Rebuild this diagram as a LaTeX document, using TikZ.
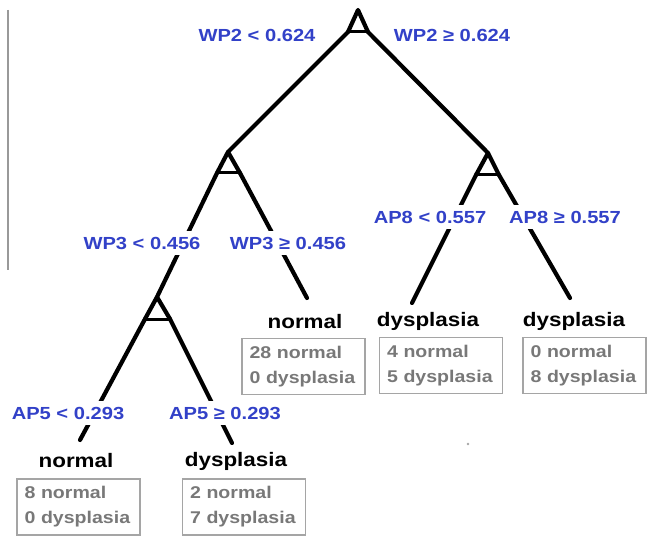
\documentclass[tikz,border=0pt]{standalone}
\usepackage{fontspec}
\newfontfamily\lab{Liberation Sans}[FakeStretch=1.15]
\definecolor{lblue}{RGB}{50,65,200}
\definecolor{boxgray}{RGB}{165,165,165}
\definecolor{txtgray}{RGB}{120,120,120}
\begin{document}
\begin{tikzpicture}[x=1pt,y=-1pt,
  branch/.style={line width=4.2pt, line join=round, line cap=round},
  crossbar/.style={line width=3pt},
  splitlbl/.style={fill=white, text=lblue, font=\lab\bfseries\fontsize{17.5}{20}\selectfont, inner sep=6pt},
  classlbl/.style={text=black, font=\lab\bfseries\fontsize{19.5}{22}\selectfont, inner sep=1pt},
  cbox/.style={draw=boxgray, line width=1.2pt, text=txtgray, font=\lab\bfseries\fontsize{17}{25}\selectfont, align=left, text width=108pt, inner xsep=7.5pt, inner ysep=3pt, minimum height=56pt}
]
\useasboundingbox (0,0) rectangle (647,537);
% stray margin line and dot in the reference
\draw[gray!80, line width=1.5pt] (8,10) coordinate (vt) -- (8,270) coordinate (vb);
\fill[gray!70] (468,444) coordinate (dot) circle (1.3);

% split points
\coordinate (r) at (358,10); \coordinate (rL) at (348,32); \coordinate (rR) at (368,32);
\coordinate (a) at (228,152); \coordinate (aL) at (217,173); \coordinate (aR) at (240,173);
\coordinate (c) at (488,153); \coordinate (cL) at (476,175); \coordinate (cR) at (499,175);
\coordinate (b) at (157,297); \coordinate (bL) at (145,319); \coordinate (bR) at (170,319);
% leaf ends
\coordinate (eA) at (307,298);
\coordinate (eCL) at (412,303); \coordinate (eCR) at (570,298);
\coordinate (eBL) at (80,440); \coordinate (eBR) at (232,443);

% triangles
\foreach \n in {r,a,c,b}{
  \draw[branch] (\n L) -- (\n) -- (\n R);
  \draw[crossbar] (\n L) -- (\n R);
}
% branches
\draw[branch] (rL) -- (a);
\draw[branch] (rR) -- (c);
\draw[branch] (aL) -- (b);
\draw[branch] (aR) -- (eA);
\draw[branch] (cL) -- (eCL);
\draw[branch] (cR) -- (eCR);
\draw[branch] (bL) -- (eBL);
\draw[branch] (bR) -- (eBR);

% split labels
\node[splitlbl] (s1) at (257,35) {WP2 < 0.624};
\node[splitlbl] (s2) at (452,35) {WP2 ≥ 0.624};
\node[splitlbl] (s3) at (142,243) {WP3 < 0.456};
\node[splitlbl] (s4) at (288,243) {WP3 ≥ 0.456};
\node[splitlbl] (s5) at (430,217) {AP8 < 0.557};
\node[splitlbl] (s6) at (565,217) {AP8 ≥ 0.557};
\node[splitlbl] (s7) at (68,413) {AP5 < 0.293};
\node[splitlbl] (s8) at (225,413) {AP5 ≥ 0.293};

% class labels
\node[classlbl] (lm) at (305,322) {normal};
\node[classlbl] (lcl) at (428,321) {dysplasia};
\node[classlbl] (lcr) at (574,321) {dysplasia};
\node[classlbl] (lbl) at (76,461) {normal};
\node[classlbl] (lbr) at (236,461) {dysplasia};

% count boxes
\node[cbox] (bm) at (303.5,366.5) {28 normal\\0 dysplasia};
\node[cbox] (bcl) at (441,365.5) {4 normal\\5 dysplasia};
\node[cbox] (bcr) at (584.5,365.5) {0 normal\\8 dysplasia};
\node[cbox] (bbl) at (78.5,507) {8 normal\\0 dysplasia};
\node[cbox] (bbr) at (244,507) {2 normal\\7 dysplasia};
\end{tikzpicture}
\end{document}
